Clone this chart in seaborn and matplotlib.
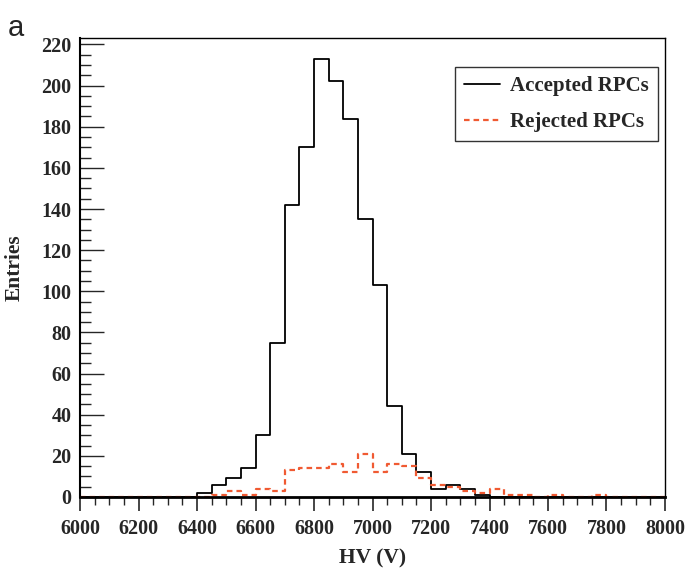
import matplotlib
matplotlib.use('Agg')
import matplotlib.pyplot as plt
import numpy
import pandas
import seaborn as sns
from matplotlib.ticker import MultipleLocator
from matplotlib.lines import Line2D

# Bin edges 6000..8000 in 50 V steps; counts read per bin from the reference
bin_edges = numpy.arange(6000, 8001, 50)
bin_centers = bin_edges[:-1] + 25

accepted_counts = [0, 0, 0, 0, 0, 0, 0, 0,          # 6000-6400
                   2, 6, 9, 14, 30, 75, 142, 170,    # 6400-6800
                   213, 202, 184, 135, 103, 44, 21, 12,  # 6800-7200
                   4, 6, 4, 1, 0, 0, 0, 0,           # 7200-7600
                   0, 0, 0, 0, 0, 0, 0, 0]           # 7600-8000

rejected_counts = [0, 0, 0, 0, 0, 0, 0, 0,
                   0, 1, 3, 1, 4, 3, 13, 14,
                   14, 16, 12, 21, 12, 16, 15, 9,
                   6, 5, 3, 2, 4, 1, 1, 0,
                   1, 0, 0, 1, 0, 0, 0, 0]

df = pandas.DataFrame({
    'HV': numpy.concatenate([bin_centers, bin_centers]),
    'count': accepted_counts + rejected_counts,
    'group': ['Accepted RPCs'] * len(bin_centers) + ['Rejected RPCs'] * len(bin_centers),
})

sns.set_style('white')
serif = ['Liberation Serif', 'DejaVu Serif']

fig = plt.figure(figsize=(6.85, 5.68), dpi=100)
ax = fig.add_axes([0.1168, 0.125, 0.854, 0.8076])

red = '#f05a32'
dash = (0, (2.5, 1.8))
sns.histplot(data=df[df['group'] == 'Accepted RPCs'], x='HV', weights='count',
             binwidth=50, binrange=(6000, 8000),
             element='step', fill=False, color='black', linewidth=1.3, ax=ax)
sns.histplot(data=df[df['group'] == 'Rejected RPCs'], x='HV', weights='count',
             binwidth=50, binrange=(6000, 8000),
             element='step', fill=False, color=red, linewidth=1.6, linestyle=dash, ax=ax)

ax.set_xlim(6000, 8000)
ax.set_ylim(0, 223)

ax.xaxis.set_major_locator(MultipleLocator(200))
ax.xaxis.set_minor_locator(MultipleLocator(50))
ax.yaxis.set_major_locator(MultipleLocator(20))
ax.yaxis.set_minor_locator(MultipleLocator(5))

ax.tick_params(axis='x', which='major', direction='out', length=10, width=1.2, bottom=True, top=False, pad=6)
ax.tick_params(axis='x', which='minor', direction='out', length=6, width=1.0, bottom=True, top=False)
ax.tick_params(axis='y', which='major', direction='in', length=17, width=1.0, left=True, right=False, pad=6)
ax.tick_params(axis='y', which='minor', direction='in', length=8, width=1.0, left=True, right=False)

for lbl in ax.get_xticklabels() + ax.get_yticklabels():
    lbl.set_family(serif)
    lbl.set_fontweight('bold')
    lbl.set_fontsize(14.5)

for side in ['top', 'right', 'bottom', 'left']:
    ax.spines[side].set_visible(True)
    ax.spines[side].set_color('black')
    ax.spines[side].set_linewidth(1.0)
ax.spines['bottom'].set_linewidth(2.0)
ax.spines['left'].set_linewidth(1.5)

ax.set_xlabel('HV (V)', family=serif, fontweight='bold', fontsize=15.5, labelpad=7)
ax.set_ylabel('Entries', family=serif, fontweight='bold', fontsize=15.5, labelpad=12)

handles = [Line2D([0], [0], color='black', linewidth=1.3),
           Line2D([0], [0], color=red, linewidth=1.6, linestyle=dash)]
leg = ax.legend(handles, ['Accepted RPCs', 'Rejected RPCs'], loc='upper right',
                bbox_to_anchor=(0.988, 0.9374), borderaxespad=0, frameon=True, fancybox=False,
                edgecolor='black', handlelength=1.75, handletextpad=0.45,
                borderpad=0.45, labelspacing=0.75,
                prop={'family': serif, 'weight': 'bold', 'size': 15})
leg.get_frame().set_linewidth(1.0)

fig.text(0.012, 0.975, 'a', family=['Liberation Sans', 'DejaVu Sans'], fontsize=21,
         va='top', ha='left')

fig.savefig('out.png', dpi=100)
